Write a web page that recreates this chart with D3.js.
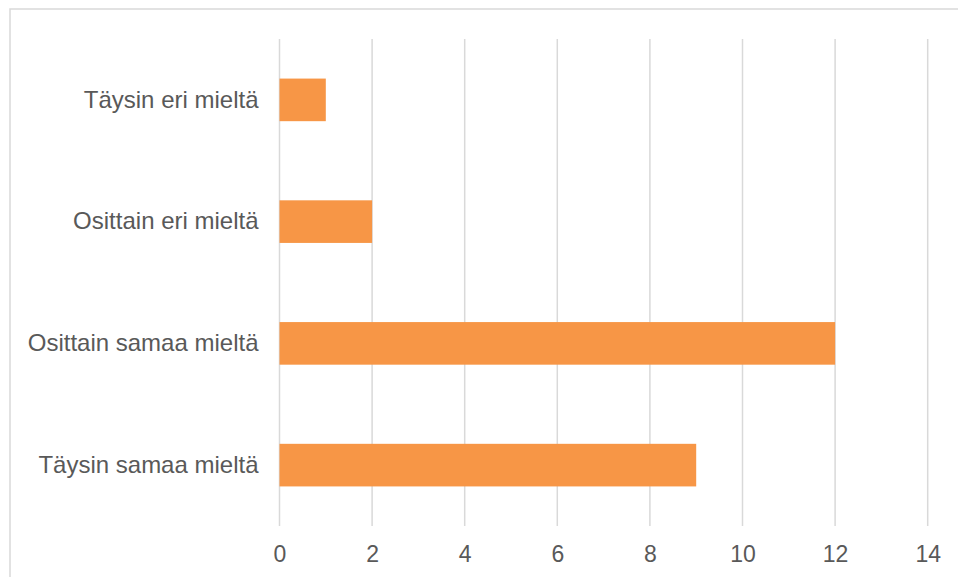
<!DOCTYPE html>
<html>
<head>
<meta charset="utf-8">
<script src="https://cdn.jsdelivr.net/npm/d3@7"></script>
<style>
  html, body { margin: 0; padding: 0; background: #ffffff; overflow: hidden; }
  svg { display: block; }
</style>
</head>
<body>
<svg id="chart" width="958" height="577"></svg>
<script>
const categories = ["Täysin eri mieltä", "Osittain eri mieltä", "Osittain samaa mieltä", "Täysin samaa mieltä"];
const values = [1, 2, 12, 9];
const xTicks = [0, 2, 4, 6, 8, 10, 12, 14];

const svg = d3.select("#chart");
const plot = { left: 279.5, right: 927.7, top: 39, bottom: 526 };

// outer chart border (extends past the viewport on the right and bottom)
svg.append("rect")
  .attr("x", 10).attr("y", 9)
  .attr("width", 1000).attr("height", 700)
  .attr("fill", "none")
  .attr("stroke", "#d9d9d9")
  .attr("stroke-width", 1.5);

const x = d3.scaleLinear().domain([0, 14]).range([plot.left, plot.right]);
const y = d3.scaleBand().domain(categories).range([plot.top, plot.bottom]).padding(0);

// gridlines
svg.append("g")
  .selectAll("line")
  .data(xTicks)
  .join("line")
  .attr("x1", d => x(d)).attr("x2", d => x(d))
  .attr("y1", plot.top).attr("y2", plot.bottom)
  .attr("stroke", "#d9d9d9")
  .attr("stroke-width", 1.5);

// bars
const barH = y.bandwidth() * 0.35;
svg.append("g")
  .selectAll("rect")
  .data(categories.map((c, i) => ({ c, v: values[i] })))
  .join("rect")
  .attr("x", x(0))
  .attr("y", d => y(d.c) + (y.bandwidth() - barH) / 2)
  .attr("width", d => x(d.v) - x(0))
  .attr("height", barH)
  .attr("fill", "#f79646");

// x axis
const xAxis = svg.append("g")
  .attr("transform", `translate(0,${plot.bottom})`)
  .call(d3.axisBottom(x).tickValues(xTicks).tickSize(0).tickPadding(20));
xAxis.select(".domain").remove();
xAxis.selectAll("text")
  .attr("fill", "#595959")
  .style("font-family", "'Liberation Sans', Arial, sans-serif")
  .style("font-size", "23px");

// y axis
const yAxis = svg.append("g")
  .attr("transform", `translate(${plot.left},0)`)
  .call(d3.axisLeft(y).tickSize(0).tickPadding(21));
yAxis.select(".domain").remove();
yAxis.selectAll("text")
  .attr("fill", "#595959")
  .style("font-family", "'Liberation Sans', Arial, sans-serif")
  .style("font-size", "24px");
</script>
</body>
</html>
